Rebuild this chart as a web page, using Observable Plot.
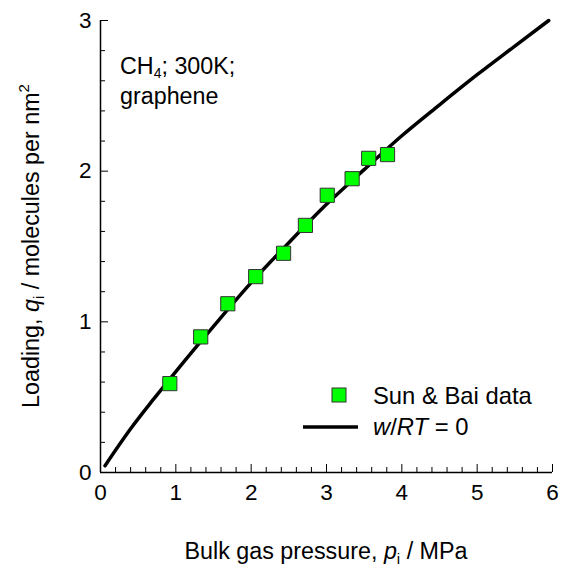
<!DOCTYPE html>
<html>
<head>
<meta charset="utf-8">
<script src="https://cdn.jsdelivr.net/npm/d3@7"></script>
<script src="https://cdn.jsdelivr.net/npm/@observablehq/plot@0.6"></script>
<style>
  html, body { margin: 0; padding: 0; background: #fff; }
  svg { font-family: "Liberation Sans", Arial, sans-serif; }
</style>
</head>
<body>
<div id="chart"></div>
<script>
// Sun & Bai data (pressure in MPa, loading in molecules per nm^2)
const dataPressure = [0.92, 1.33, 1.69, 2.06, 2.43, 2.72, 3.01, 3.34, 3.56, 3.81];
const dataLoading  = [0.59, 0.90, 1.12, 1.30, 1.455, 1.64, 1.84, 1.95, 2.085, 2.11];

// Model curve w/RT = 0
const curvePressure = [0.06, 0.40, 0.71, 1.00, 1.50, 2.00, 2.50, 3.00, 3.50, 4.00, 4.50, 5.00, 5.50, 5.95];
const curveLoading  = [0.045, 0.29, 0.49, 0.67, 0.97, 1.26, 1.525, 1.78, 2.01, 2.235, 2.44, 2.64, 2.83, 3.00];

const xMajor = [0, 1, 2, 3, 4, 5, 6];
const yMajor = [0, 1, 2, 3];
const xMinor = d3.range(0, 6.0001, 0.2).map(v => +v.toFixed(2)).filter(v => !xMajor.includes(v));
const yMinor = d3.range(0, 3.0001, 0.2).map(v => +v.toFixed(2)).filter(v => !yMajor.includes(v));

const points = dataPressure.map((p, i) => ({p, q: dataLoading[i]}));
const curve = curvePressure.map((p, i) => ({p, q: curveLoading[i]}));

const W = 565, H = 566;
const FS = 22.5;
const plot = Plot.plot({
  width: W,
  height: H,
  marginLeft: 100,
  marginRight: 13,
  marginTop: 20,
  marginBottom: 94,
  style: {fontFamily: "Liberation Sans, Arial, sans-serif", fontSize: FS + "px", color: "#000", background: "#fff"},
  x: {domain: [0, 6]},
  y: {domain: [0, 3]},
  marks: [
    Plot.line(curve, {x: "p", y: "q", stroke: "#000", strokeWidth: 3.5, curve: "monotone-x"}),
    Plot.dot(points, {x: "p", y: "q", symbol: "square", r: 8, fill: "#00ff00", stroke: "#333", strokeWidth: 1}),
    // x axis
    Plot.axisX(xMajor, {tickSize: 0, tickPadding: 12, tickFormat: d => d, fontSize: FS, label: null}),
    Plot.axisX(xMajor, {tickSize: -8, text: null, label: null, stroke: "#000"}),
    Plot.axisX(xMinor, {tickSize: -5, text: null, label: null, stroke: "#000"}),
    // y axis
    Plot.axisY(yMajor, {tickSize: 0, tickPadding: 9, tickFormat: d => d, fontSize: FS, label: null}),
    Plot.axisY(yMajor, {tickSize: -8, text: null, label: null, stroke: "#000"}),
    Plot.axisY(yMinor, {tickSize: -5, text: null, label: null, stroke: "#000"}),
    Plot.ruleY([0], {stroke: "#000", strokeWidth: 1.5}),
    Plot.ruleX([0], {stroke: "#000", strokeWidth: 1.5})
  ]
});
document.getElementById("chart").append(plot);

const svg = d3.select(plot);
const fs = 23.3;
const sub = 15;

// x-axis title
const xt = svg.append("text")
  .attr("x", 326).attr("y", 559)
  .attr("text-anchor", "middle")
  .attr("font-size", fs).attr("fill", "#000");
xt.append("tspan").text("Bulk gas pressure, ");
xt.append("tspan").attr("font-style", "italic").text("p");
xt.append("tspan").attr("font-size", sub).attr("dy", 5).text("i");
xt.append("tspan").attr("dy", -5).text(" / MPa");

// y-axis title
const yt = svg.append("text")
  .attr("transform", "translate(39,246) rotate(-90)")
  .attr("text-anchor", "middle")
  .attr("font-size", fs).attr("fill", "#000");
yt.append("tspan").text("Loading, ");
yt.append("tspan").attr("font-style", "italic").text("q");
yt.append("tspan").attr("font-size", sub).attr("dy", 5).text("i");
yt.append("tspan").attr("dy", -5).text(" / molecules per nm");
yt.append("tspan").attr("font-size", sub).attr("dy", -10).text("2");

// annotation
const a1 = svg.append("text").attr("x", 120).attr("y", 74).attr("text-anchor", "start")
  .attr("font-size", fs).attr("fill", "#000");
a1.append("tspan").text("CH");
a1.append("tspan").attr("font-size", 14).attr("dy", 4).text("4");
a1.append("tspan").attr("dy", -4).text("; 300K;");
svg.append("text").attr("x", 120).attr("y", 104).attr("text-anchor", "start")
  .attr("font-size", fs).attr("fill", "#000").text("graphene");

// legend
svg.append("rect").attr("x", 332).attr("y", 388).attr("width", 14).attr("height", 14)
  .attr("fill", "#00ff00").attr("stroke", "#333").attr("stroke-width", 1);
svg.append("text").attr("x", 373).attr("y", 404).attr("text-anchor", "start")
  .attr("font-size", 23.8).attr("fill", "#000").text("Sun & Bai data");
svg.append("line").attr("x1", 303).attr("x2", 358).attr("y1", 427).attr("y2", 427)
  .attr("stroke", "#000").attr("stroke-width", 3.5);
const l2 = svg.append("text").attr("x", 373).attr("y", 435).attr("text-anchor", "start")
  .attr("font-size", 23.8).attr("fill", "#000");
l2.append("tspan").attr("font-style", "italic").text("w");
l2.append("tspan").text("/");
l2.append("tspan").attr("font-style", "italic").text("RT");
l2.append("tspan").text(" = 0");
</script>
</body>
</html>
